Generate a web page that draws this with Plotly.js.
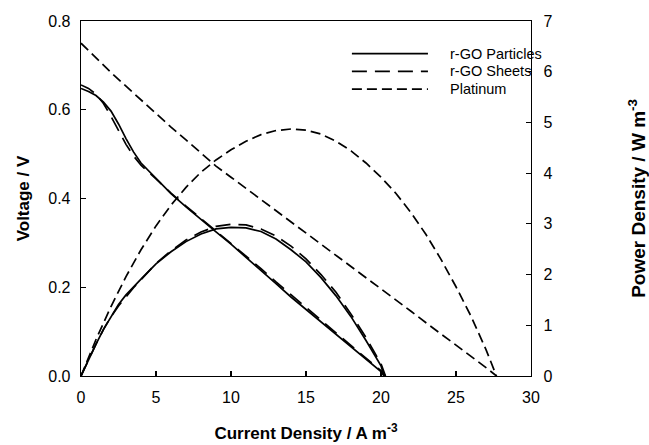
<!DOCTYPE html>
<html>
<head>
<meta charset="utf-8">
<script src="https://cdn.plot.ly/plotly-3.0.1.min.js"></script>
<style>html,body{margin:0;padding:0;background:#fff;}#chart{width:649px;height:445px;}</style>
</head>
<body>
<div id="chart"></div>
<script>
// ---- data ----
var particlesCurrent = [0,0.5,1,1.5,2,2.5,3,3.5,4,5,6,7,8,9,10,11,12,13,14,15,16,17,18,19,20,20.2];
var particlesVoltage = [0.648,0.641,0.632,0.617,0.597,0.568,0.535,0.505,0.480,0.446,0.411,0.381,0.352,0.325,0.297,0.268,0.238,0.208,0.178,0.150,0.121,0.093,0.065,0.037,0.010,0.000];
var particlesPower   = [0,0.32,0.63,0.92,1.18,1.41,1.60,1.76,1.91,2.21,2.45,2.65,2.80,2.90,2.93,2.92,2.85,2.70,2.49,2.25,1.94,1.58,1.17,0.70,0.20,0];

var sheetsCurrent = [0,0.5,1,1.5,2,2.5,3,3.5,4,5,6,7,8,9,10,11,12,13,14,15,16,17,18,19,20,20.3];
var sheetsVoltage = [0.656,0.648,0.635,0.614,0.585,0.552,0.522,0.496,0.475,0.444,0.412,0.383,0.355,0.328,0.300,0.271,0.242,0.212,0.183,0.154,0.125,0.097,0.068,0.040,0.012,0.000];
var sheetsPower   = [0,0.32,0.63,0.92,1.17,1.38,1.57,1.74,1.90,2.22,2.47,2.68,2.84,2.95,2.99,2.98,2.90,2.76,2.56,2.31,2.00,1.65,1.22,0.76,0.24,0];

var platinumCurrent = [0,0.5,1,2,3,4,5,6,7,8,9,10,11,12,13,14,15,16,17,18,19,20,21,22,23,24,25,26,27,27.7];
var platinumVoltage = [0.750,0.733,0.716,0.684,0.653,0.622,0.591,0.561,0.532,0.502,0.473,0.448,0.423,0.398,0.372,0.347,0.322,0.297,0.271,0.246,0.221,0.196,0.171,0.146,0.120,0.095,0.070,0.045,0.019,0.000];
var platinumPower   = [0,0.37,0.72,1.37,1.96,2.49,2.96,3.37,3.72,4.02,4.26,4.46,4.63,4.76,4.84,4.87,4.85,4.77,4.63,4.44,4.20,3.92,3.60,3.22,2.79,2.30,1.76,1.18,0.52,0];

var seriesNames = ['r-GO Particles','r-GO Sheets','Platinum'];
var xTickVals = [0,5,10,15,20,25,30];
var yTickVals = [0,0.2,0.4,0.6,0.8];
var y2TickVals = [0,1,2,3,4,5,6,7];

// ---- styles ----
var FONT = 'Liberation Sans, Arial, Helvetica, sans-serif';
var styles = [
  {color:'#000', width:1.7, dash:'solid'},
  {color:'#000', width:1.7, dash:'15px,8px'},
  {color:'#000', width:1.7, dash:'10px,5px'}
];

function tr(x, y, i, axis) {
  return {x:x, y:y, type:'scatter', mode:'lines', name:seriesNames[i],
          yaxis:axis, line:styles[i], showlegend:false, hoverinfo:'skip'};
}
var data = [
  tr(particlesCurrent, particlesVoltage, 0, 'y'),
  tr(sheetsCurrent, sheetsVoltage, 1, 'y'),
  tr(platinumCurrent, platinumVoltage, 2, 'y'),
  tr(particlesCurrent, particlesPower, 0, 'y2'),
  tr(sheetsCurrent, sheetsPower, 1, 'y2'),
  tr(platinumCurrent, platinumPower, 2, 'y2')
];

// custom legend (long line samples as in the reference)
var legX0 = 0.602, legX1 = 0.771, legTextX = 0.816;
var legY = [0.908, 0.858, 0.808];
var shapes = [], annotations = [];
for (var i = 0; i < seriesNames.length; i++) {
  shapes.push({type:'line', xref:'paper', yref:'paper', x0:legX0, x1:legX1, y0:legY[i], y1:legY[i],
               line:{color:'#000', width:styles[i].width, dash:styles[i].dash}});
  annotations.push({xref:'paper', yref:'paper', x:legTextX, y:legY[i], xanchor:'left', yanchor:'middle',
                    text:seriesNames[i], showarrow:false, font:{family:FONT, size:14.5, color:'#000'}});
}

var axisCommon = {
  showgrid:false, zeroline:false, showline:true, linecolor:'#000', linewidth:1.3,
  ticks:'inside', ticklen:5, tickwidth:1.2, tickcolor:'#000',
  tickfont:{family:FONT, size:16, color:'#000'}
};
var titleFont = {family:FONT, size:17, color:'#000'};

var layout = {
  width:649, height:445,
  margin:{l:81, r:118, t:21, b:69, pad:0},
  paper_bgcolor:'#fff', plot_bgcolor:'#fff',
  font:{family:FONT, color:'#000'},
  showlegend:false,
  xaxis: Object.assign({}, axisCommon, {
    range:[0,30], tickvals:xTickVals, mirror:true, ticklabelstandoff:6,
    title:{text:'<b>Current Density / A m<sup>-3</sup></b>', font:titleFont, standoff:22}
  }),
  yaxis: Object.assign({}, axisCommon, {
    range:[0,0.8], tickvals:yTickVals, tickformat:'.1f', ticklabelstandoff:6,
    title:{text:'<b>Voltage / V</b>', font:titleFont, standoff:14}
  }),
  yaxis2: Object.assign({}, axisCommon, {
    range:[0,7], tickvals:y2TickVals, overlaying:'y', side:'right', ticklabelstandoff:8,
    title:{text:'<b>Power Density / W m<sup>-3</sup></b>', font:{family:FONT, size:19, color:'#000'}, standoff:80}
  }),
  shapes:shapes,
  annotations:annotations
};

Plotly.newPlot('chart', data, layout, {displayModeBar:false, staticPlot:true});
</script>
</body>
</html>
